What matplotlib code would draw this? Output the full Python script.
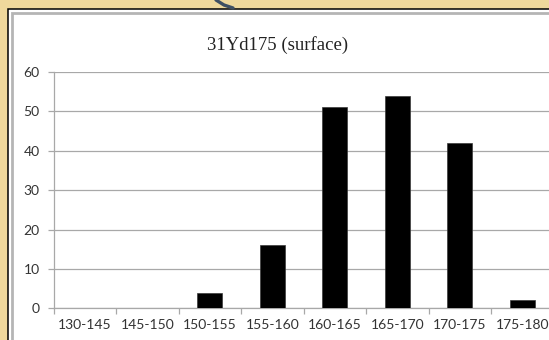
import matplotlib
matplotlib.use("Agg")
import matplotlib.pyplot as plt
from matplotlib.patches import Rectangle
import numpy as np

# Height-class counts for site 31Yd175 (surface collection)
categories = ["130-145", "145-150", "150-155", "155-160",
              "160-165", "165-170", "170-175", "175-180"]
counts = [0, 0, 4, 16, 51, 54, 42, 2]
y_ticks = [0, 10, 20, 30, 40, 50, 60]

W, H = 549, 340
fig = plt.figure(figsize=(W / 100, H / 100), dpi=100)
fig.patch.set_facecolor("#efd89c")

# white chart panel with black outline and grey inner frame
fig.patches.append(Rectangle((7.5 / W, -0.1), 1.1, 1 - 8.5 / H + 0.1,
                             transform=fig.transFigure, facecolor="white",
                             edgecolor="black", lw=1.1, zorder=-2))
fig.patches.append(Rectangle((12 / W, -0.1), 1.1, 1 - 12.5 / H + 0.1,
                             transform=fig.transFigure, facecolor="none",
                             edgecolor="#b5b5b5", lw=2.0, zorder=-1))
# small dark stroke poking in at the top edge
fig.lines.append(plt.Line2D([216 / W, 224 / W, 233 / W],
                            [1.0, 1 - 5 / H, 1 - 8 / H],
                            transform=fig.transFigure, color="#3e4f63",
                            lw=2.4, solid_capstyle="round", zorder=2))

ax = fig.add_axes([53.5 / W, (H - 308.3) / H, 500 / W, (308.3 - 72) / H])
ax.set_facecolor("none")
x = np.arange(len(categories))
ax.bar(x, counts, width=0.4, color="black", edgecolor="#3a3a3a",
       linewidth=0.5, zorder=3)

ax.set_xlim(-0.5, len(categories) - 0.5)
ax.set_ylim(0, 60)
ax.set_yticks(y_ticks)
ax.set_yticklabels([str(v) for v in y_ticks])
ax.yaxis.grid(True, color="#a8a8a8", lw=0.9)
ax.set_axisbelow(True)

ax.set_xticks(x)
ax.set_xticklabels(categories)
ax.set_xticks(np.arange(len(categories) + 1) - 0.5, minor=True)
ax.tick_params(axis="x", which="major", length=0, pad=8,
               labelsize=10, labelcolor="#333333")
ax.tick_params(axis="x", which="minor", length=4, width=0.9,
               color="#a8a8a8", direction="out")
ax.tick_params(axis="y", length=4, width=0.9, color="#a8a8a8",
               pad=6, labelsize=10, labelcolor="#333333")
for lab in ax.get_xticklabels() + ax.get_yticklabels():
    lab.set_family("Lato")

for side in ("top", "right"):
    ax.spines[side].set_visible(False)
for side in ("left", "bottom"):
    ax.spines[side].set_color("#a8a8a8")
    ax.spines[side].set_linewidth(0.9)

fig.text(277.5 / W, 1 - 45 / H, "31Yd175 (surface)", ha="center",
         va="center", fontsize=13.5, family="Liberation Serif",
         color="#222222")

fig.savefig("out.png", dpi=100, facecolor=fig.get_facecolor())
